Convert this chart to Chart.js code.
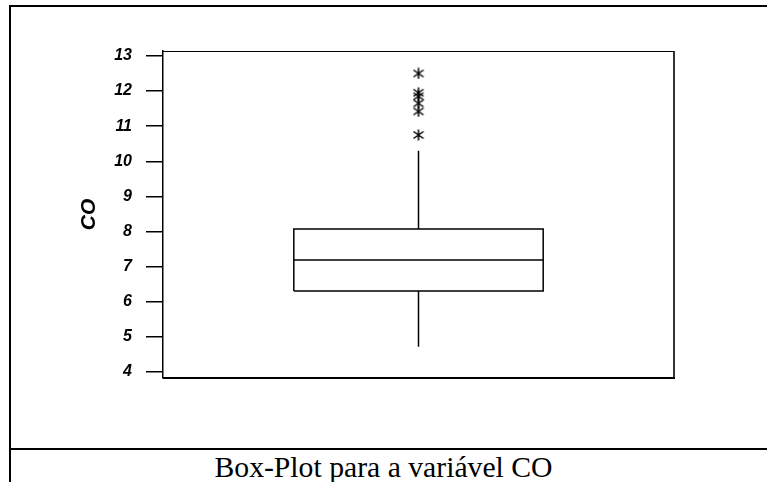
<!DOCTYPE html>
<html lang="pt">
<head>
<meta charset="utf-8">
<title>Box-Plot CO</title>
<script src="https://cdn.jsdelivr.net/npm/chart.js@4/dist/chart.umd.min.js"></script>
<style>
    html, body { margin: 0; padding: 0; background: #fff; }
    #page { position: relative; width: 767px; height: 482px; overflow: hidden; }
    #moldura { position: absolute; left: 9px; top: 5px; width: 758px; height: 477px;
               border-left: 2px solid #000; border-top: 2px solid #000; }
    #divisor { position: absolute; left: 9px; top: 448px; width: 758px; height: 2px; background: #000; }
    #grafico-wrap { position: absolute; left: 0; top: 0; width: 767px; height: 448px; }
    #legenda { position: absolute; left: 0; top: 452px; width: 767px; line-height: 30px;
               text-align: center; font-family: "Liberation Serif", "Times New Roman", serif;
               font-size: 29.7px; color: #000; white-space: nowrap; }
</style>
</head>
<body>
<div id="page">
    <div id="moldura"></div>
    <div id="divisor"></div>
    <div id="grafico-wrap"><canvas id="boxplot" width="767" height="448"></canvas></div>
    <div id="legenda">Box-Plot para a variável CO</div>
</div>
<script>
const categorias = ['CO'];
const quartil1 = [6.31];
const mediana = [7.19];
const quartil3 = [8.07];
const bigodeInferior = [4.72];
const bigodeSuperior = [10.30];
const outliers = [12.5, 11.95, 11.85, 11.65, 11.42, 10.75];
const yTicks = [4, 5, 6, 7, 8, 9, 10, 11, 12, 13];

document.addEventListener('DOMContentLoaded', () => {

    /* --- Geometria da caixa no eixo x (0..1) --- */
    const centro = 0.5;
    const meiaLargura = 0.244;

    // Símbolo do outlier: asterisco (X + barra vertical)
    function criarAsterisco() {
        const c = document.createElement('canvas');
        c.width = 12; c.height = 12;
        const g = c.getContext('2d');
        g.strokeStyle = '#000';
        g.lineWidth = 1.5;
        g.beginPath();
        g.moveTo(6, 0.5); g.lineTo(6, 11.5);
        g.moveTo(1, 2.5); g.lineTo(11, 9.5);
        g.moveTo(1, 9.5); g.lineTo(11, 2.5);
        g.stroke();
        return c;
    }

    const linha = (pontos) => ({
        data: pontos,
        showLine: true,
        borderColor: '#000',
        borderWidth: 1.5,
        pointRadius: 0,
        fill: false
    });

    const i = 0; // única categoria
    const datasets = [
        // caixa Q1..Q3
        linha([
            { x: centro - meiaLargura, y: quartil1[i] },
            { x: centro + meiaLargura, y: quartil1[i] },
            { x: centro + meiaLargura, y: quartil3[i] },
            { x: centro - meiaLargura, y: quartil3[i] },
            { x: centro - meiaLargura, y: quartil1[i] }
        ]),
        // mediana
        linha([
            { x: centro - meiaLargura, y: mediana[i] },
            { x: centro + meiaLargura, y: mediana[i] }
        ]),
        // bigodes
        linha([{ x: centro, y: bigodeInferior[i] }, { x: centro, y: quartil1[i] }]),
        linha([{ x: centro, y: quartil3[i] }, { x: centro, y: bigodeSuperior[i] }]),
        // outliers
        {
            data: outliers.map(v => ({ x: centro, y: v })),
            showLine: false,
            pointStyle: criarAsterisco(),
            pointRadius: 6
        }
    ];

    // Moldura da área do gráfico (topo, direita, base)
    const molduraPlugin = {
        id: 'moldura',
        afterDraw(chart) {
            const { ctx, chartArea: a } = chart;
            ctx.save();
            ctx.strokeStyle = '#000';
            ctx.lineWidth = 1.2;
            ctx.beginPath();
            ctx.moveTo(a.left, a.top + 0.5); ctx.lineTo(a.right, a.top + 0.5);
            ctx.stroke();
            ctx.lineWidth = 1.6;
            ctx.beginPath();
            ctx.moveTo(a.right, a.top); ctx.lineTo(a.right, a.bottom);
            ctx.stroke();
            ctx.lineWidth = 2;
            ctx.beginPath();
            ctx.moveTo(a.left, a.bottom); ctx.lineTo(a.right + 1, a.bottom);
            ctx.stroke();
            ctx.restore();
        }
    };

    new Chart(document.getElementById('boxplot').getContext('2d'), {
        type: 'scatter',
        data: { labels: categorias, datasets: datasets },
        options: {
            responsive: false,
            animation: false,
            layout: { padding: { left: 0, top: 51, right: 93, bottom: 70 } },
            plugins: { legend: { display: false }, tooltip: { enabled: false } },
            scales: {
                x: { type: 'linear', min: 0, max: 1, display: false },
                y: {
                    type: 'linear',
                    min: 3.83,
                    max: 13.14,
                    afterBuildTicks: (scale) => { scale.ticks = yTicks.map(v => ({ value: v })); },
                    afterFit: (scale) => { scale.width = 163; },
                    border: { display: true, color: '#000', width: 1.5 },
                    grid: { display: true, drawOnChartArea: false, drawTicks: true, tickLength: 17,
                            color: '#000', lineWidth: 1.5 },
                    ticks: {
                        padding: 14,
                        color: '#000',
                        font: { family: '"Liberation Sans", Arial, sans-serif', size: 16, weight: 'bold', style: 'italic' }
                    },
                    title: {
                        display: true,
                        text: 'CO',
                        color: '#000',
                        padding: { top: 77, bottom: 0 },
                        font: { family: '"Liberation Sans", Arial, sans-serif', size: 21, weight: 'bold', style: 'italic', lineHeight: 1.2 }
                    }
                }
            }
        },
        plugins: [molduraPlugin]
    });
});
</script>
</body>
</html>
